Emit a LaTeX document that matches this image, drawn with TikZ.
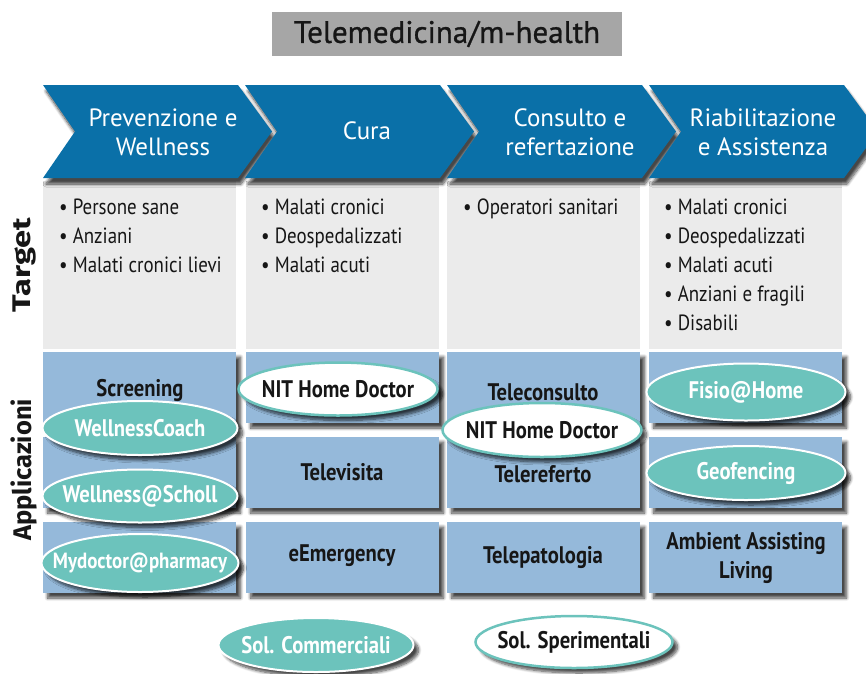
\documentclass[tikz,border=0pt]{standalone}
\usepackage{fontspec}
\setmainfont{PT Sans}[FakeStretch=0.86]
\newfontfamily\widefont{PT Sans}
\newfontfamily\headfont{PT Sans}[FakeBold=0.9]
\newfontfamily\sidefont{Fira Sans}
\usetikzlibrary{shapes.geometric,shadows,shadows.blur}

\definecolor{chevblue}{RGB}{10,112,168}
\definecolor{appblue}{RGB}{149,185,218}
\definecolor{targetgray}{RGB}{235,235,235}
\definecolor{titlegray}{RGB}{166,166,166}
\definecolor{appteal}{RGB}{108,195,188}
\definecolor{inkdark}{RGB}{22,22,22}

\tikzset{
  softshadow/.style={blur shadow={shadow xshift=5pt, shadow yshift=-5pt,
      shadow opacity=72, shadow blur steps=8, shadow blur radius=3pt}},
  titlebox/.style={fill=titlegray, minimum width=350, minimum height=44,
      inner sep=0pt, font=\headfont\fontsize{31}{34}\selectfont, text=inkdark},
  chevron/.style={fill=chevblue, blur shadow={shadow xshift=3pt, shadow yshift=-6pt,
      shadow opacity=72, shadow blur steps=8, shadow blur radius=3pt}},
  chevlabel/.style={text=white, align=center, font=\widefont\fontsize{25}{29}\selectfont},
  targetbox/.style={fill=targetgray, minimum width=193, minimum height=168, inner sep=0pt},
  targetlist/.style={anchor=north west, align=left, inner sep=0pt, text=inkdark,
      font=\fontsize{22}{29}\selectfont},
  appbox/.style={fill=appblue, minimum width=193, minimum height=71, inner sep=0pt,
      softshadow},
  applabel/.style={text=inkdark, align=center, font=\fontsize{24}{29}\selectfont\bfseries},
  commercial/.style={ellipse, fill=appteal, draw=white, line width=2pt, inner sep=0pt,
      softshadow},
  experimental/.style={ellipse, fill=white, draw=appteal, line width=2.5pt, inner sep=0pt,
      softshadow},
  comtext/.style={text=white, font=\fontsize{24}{28}\selectfont\bfseries},
  exptext/.style={text=inkdark, font=\fontsize{24}{28}\selectfont\bfseries},
  sidelabel/.style={rotate=90, text=inkdark, font=\sidefont\fontsize{25.5}{28}\selectfont\bfseries},
}

\begin{document}
\begin{tikzpicture}[x=1pt, y=-1pt]
\useasboundingbox (0,0) rectangle (866,673);

% Title
\node[titlebox] (title) at (447,34) {Telemedicina/m-health};

% Target area
\node[targetbox] (t1) at (139,265) {};
\node[targetbox] (t2) at (342,265) {};
\node[targetbox] (t3) at (543,265) {};
\node[targetbox] (t4) at (745,265) {};

\node[targetlist] (l1) at (59,199) {• Persone sane\\• Anziani\\• Malati cronici lievi};
\node[targetlist] (l2) at (261,199) {• Malati cronici\\• Deospedalizzati\\• Malati acuti};
\node[targetlist] (l3) at (463,199) {• Operatori sanitari};
\node[targetlist] (l4) at (664,199) {• Malati cronici\\• Deospedalizzati\\• Malati acuti\\• Anziani e fragili\\• Disabili};

% Application boxes
\node[appbox] (a11) at (139,387.5) {};
\node[appbox] (a21) at (139,472.5) {};
\node[appbox] (a31) at (139,557.5) {};
\node[appbox] (a12) at (342,387.5) {};
\node[appbox] (a22) at (342,472.5) {};
\node[appbox] (a32) at (342,557.5) {};
\node[appbox] (a13) at (543,387.5) {};
\node[appbox] (a23) at (543,472.5) {};
\node[appbox] (a33) at (543,557.5) {};
\node[appbox] (a14) at (745,387.5) {};
\node[appbox] (a24) at (745,472.5) {};
\node[appbox] (a34) at (745,557.5) {};

\node[applabel] (screening) at (140,390) {Screening};
\node[applabel] (televisita) at (342,472) {Televisita};
\node[applabel] (eemergency) at (342,556) {eEmergency};
\node[applabel] (teleconsulto) at (543,392) {Teleconsulto};
\node[applabel] (telereferto) at (543,474) {Telereferto};
\node[applabel] (telepatologia) at (543,557) {Telepatologia};
\node[applabel] (aal) at (746,558) {Ambient Assisting\\Living};

% Solutions: ellipse shapes, then their names
\node[commercial, minimum width=195, minimum height=54] (wc) at (140,428) {};
\node[comtext] at (wc) {WellnessCoach};
\node[commercial, minimum width=195, minimum height=53] (ws) at (140,496) {};
\node[comtext] at (ws) {Wellness@Scholl};
\node[commercial, minimum width=197, minimum height=58] (mp) at (140,563) {};
\node[comtext, font=\fontsize{22}{26}\selectfont\bfseries] at (mp) {Mydoctor@pharmacy};
\node[experimental, minimum width=199, minimum height=53] (nit1) at (338,389) {};
\node[exptext] at (nit1) {NIT Home Doctor};
\node[experimental, minimum width=199, minimum height=54] (nit2) at (542,430) {};
\node[exptext] at (nit2) {NIT Home Doctor};
\node[commercial, minimum width=199, minimum height=57] (fh) at (746,392) {};
\node[comtext] at (fh) {Fisio@Home};
\node[commercial, minimum width=199, minimum height=54] (gf) at (746,473) {};
\node[comtext] at (gf) {Geofencing};

% Legend
\node[commercial, minimum width=195, minimum height=54] (solc) at (316,645) {};
\node[comtext] at (solc) {Sol. Commerciali};
\node[experimental, minimum width=197, minimum height=52] (sols) at (574,642) {};
\node[exptext] at (sols) {Sol. Sperimentali};

% Process chevrons
\begin{scope}
  \clip (0,0) rectangle (866,673);
  \foreach \k in {0,1,2,3} {
    \pgfmathsetmacro{\L}{43+202*\k}
    \pgfmathsetmacro{\R}{\L+195}
    \fill[chevron] (\L,85) -- (\R,85) -- (\R+34,131.5) -- (\R,178) -- (\L,178)
      -- (\L+32,131.5) -- cycle;
  }
\end{scope}
\node[chevlabel] (c1) at (163,132) {Prevenzione e\\Wellness};
\node[chevlabel] (c2) at (367,131) {Cura};
\node[chevlabel] (c3) at (570,132) {Consulto e\\refertazione};
\node[chevlabel] (c4) at (763,132) {Riabilitazione\\e Assistenza};

% Row headings
\node[sidelabel] (target) at (24,265) {\scalebox{1.28}[1]{Target}};
\node[sidelabel] (apps) at (24,470) {Applicazioni};
\end{tikzpicture}
\end{document}
